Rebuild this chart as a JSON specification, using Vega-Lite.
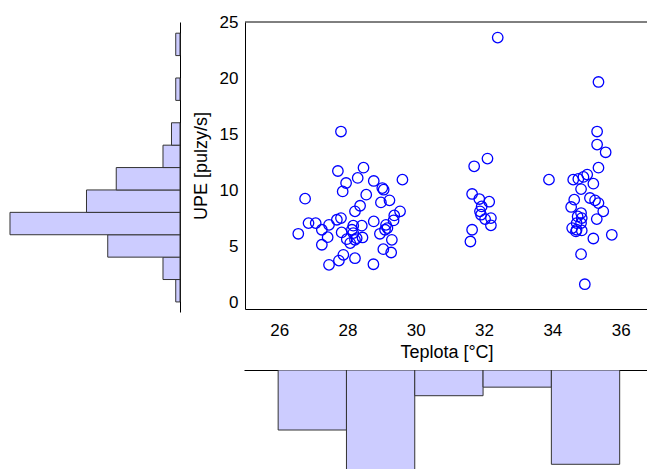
{
  "$schema": "https://vega.github.io/schema/vega-lite/v6.json",
  "padding": {"left": 0, "top": 13, "right": 0, "bottom": 0},
  "config": {
    "view": {"stroke": null},
    "font": "Liberation Sans",
    "axis": {"labelFont": "Liberation Sans", "titleFont": "Liberation Sans", "labelFontSize": 17, "titleFontSize": 18, "labelColor": "#000", "titleColor": "#000", "titleFontWeight": "normal", "domainColor": "#000", "grid": false, "ticks": false}
  },
  "datasets": {
    "pts": [
      {"t": 27.81, "u": 15.23}, {"t": 27.72, "u": 11.71}, {"t": 28.47, "u": 12.01}, {"t": 28.30, "u": 11.09},
      {"t": 27.96, "u": 10.64}, {"t": 27.86, "u": 9.89}, {"t": 28.77, "u": 10.82}, {"t": 29.02, "u": 10.19},
      {"t": 29.06, "u": 10.04}, {"t": 29.61, "u": 10.94}, {"t": 28.55, "u": 9.60}, {"t": 28.98, "u": 8.91},
      {"t": 29.23, "u": 9.09}, {"t": 28.37, "u": 8.61}, {"t": 28.22, "u": 8.11}, {"t": 26.76, "u": 9.24},
      {"t": 29.54, "u": 8.11}, {"t": 29.37, "u": 7.75}, {"t": 29.35, "u": 7.30}, {"t": 28.77, "u": 7.21},
      {"t": 27.81, "u": 7.51}, {"t": 27.69, "u": 7.36}, {"t": 26.86, "u": 7.06}, {"t": 27.07, "u": 7.06},
      {"t": 27.46, "u": 6.91}, {"t": 27.25, "u": 6.47}, {"t": 26.56, "u": 6.11}, {"t": 28.17, "u": 6.83},
      {"t": 28.42, "u": 6.83}, {"t": 27.83, "u": 6.23}, {"t": 28.13, "u": 6.47}, {"t": 28.17, "u": 6.17},
      {"t": 27.42, "u": 5.81}, {"t": 27.98, "u": 5.63}, {"t": 28.27, "u": 5.72}, {"t": 28.44, "u": 5.78},
      {"t": 28.08, "u": 5.28}, {"t": 28.22, "u": 5.57}, {"t": 28.95, "u": 6.11}, {"t": 29.10, "u": 6.47},
      {"t": 29.17, "u": 6.62}, {"t": 29.30, "u": 5.57}, {"t": 27.25, "u": 5.13}, {"t": 29.05, "u": 4.74},
      {"t": 29.28, "u": 4.44}, {"t": 27.88, "u": 4.23}, {"t": 27.75, "u": 3.72}, {"t": 27.46, "u": 3.34},
      {"t": 28.22, "u": 3.93}, {"t": 28.76, "u": 3.39}, {"t": 29.13, "u": 6.91},
      {"t": 32.40, "u": 23.61}, {"t": 31.71, "u": 12.13}, {"t": 32.10, "u": 12.82}, {"t": 31.65, "u": 9.66},
      {"t": 31.86, "u": 9.21}, {"t": 32.15, "u": 8.97}, {"t": 31.93, "u": 8.55}, {"t": 31.88, "u": 8.11},
      {"t": 31.91, "u": 7.81}, {"t": 32.20, "u": 7.51}, {"t": 32.03, "u": 7.42}, {"t": 32.20, "u": 6.86},
      {"t": 31.65, "u": 6.47}, {"t": 31.60, "u": 5.42},
      {"t": 35.35, "u": 19.65}, {"t": 35.31, "u": 15.23}, {"t": 35.31, "u": 14.07}, {"t": 35.56, "u": 13.38},
      {"t": 35.35, "u": 12.01}, {"t": 33.90, "u": 10.94}, {"t": 34.61, "u": 10.94}, {"t": 34.76, "u": 11.00},
      {"t": 34.91, "u": 11.18}, {"t": 35.02, "u": 11.39}, {"t": 35.20, "u": 10.58}, {"t": 34.84, "u": 10.10},
      {"t": 34.64, "u": 9.15}, {"t": 35.10, "u": 9.30}, {"t": 35.25, "u": 9.09}, {"t": 35.35, "u": 8.85},
      {"t": 34.55, "u": 8.50}, {"t": 35.49, "u": 8.11}, {"t": 34.84, "u": 7.96}, {"t": 34.74, "u": 7.66},
      {"t": 34.86, "u": 7.51}, {"t": 35.30, "u": 7.42}, {"t": 34.71, "u": 7.06}, {"t": 34.84, "u": 7.06},
      {"t": 34.58, "u": 6.62}, {"t": 34.71, "u": 6.47}, {"t": 34.86, "u": 6.41}, {"t": 35.74, "u": 6.02},
      {"t": 35.20, "u": 5.69}, {"t": 34.84, "u": 4.29}, {"t": 34.95, "u": 1.61}, {"t": 34.69, "u": 6.32}
    ],
    "yh": [
      {"lo": 0, "hi": 2, "count": 1}, {"lo": 2, "hi": 4, "count": 4}, {"lo": 4, "hi": 6, "count": 17},
      {"lo": 6, "hi": 8, "count": 40}, {"lo": 8, "hi": 10, "count": 22}, {"lo": 10, "hi": 12, "count": 15},
      {"lo": 12, "hi": 14, "count": 4}, {"lo": 14, "hi": 16, "count": 2}, {"lo": 18, "hi": 20, "count": 1},
      {"lo": 22, "hi": 24, "count": 1}
    ],
    "xh": [
      {"lo": 26, "hi": 28, "count": 14}, {"lo": 28, "hi": 30, "count": 61}, {"lo": 30, "hi": 32, "count": 6},
      {"lo": 32, "hi": 34, "count": 4}, {"lo": 34, "hi": 36, "count": 22}
    ]
  },
  "spacing": 9,
  "vconcat": [
    {
      "spacing": 11,
      "hconcat": [
        {
          "width": 180, "height": 290,
          "data": {"name": "yh"},
          "mark": {"type": "rect", "fill": "#ccccff", "stroke": "#333333", "strokeWidth": 1},
          "encoding": {
            "y": {"field": "lo", "type": "quantitative", "scale": {"domain": [-0.9, 25], "nice": false, "zero": false}, "axis": {"orient": "right", "labels": false, "title": null}},
            "y2": {"field": "hi"},
            "x": {"field": "count", "type": "quantitative", "scale": {"domain": [0, 42.35], "reverse": true, "nice": false}, "axis": null},
            "x2": {"datum": 0}
          }
        },
        {
          "width": 403, "height": 287,
          "layer": [
            {
              "data": {"name": "pts"},
              "mark": {"type": "point", "shape": "circle", "filled": false, "size": 110, "strokeWidth": 1.3, "color": "#0000ff", "opacity": 1},
              "encoding": {
                "x": {"field": "t", "type": "quantitative", "scale": {"domain": [25, 36.8], "nice": false, "zero": false}, "axis": {"values": [26, 28, 30, 32, 34, 36], "title": "Teplota [°C]", "labelPadding": 13, "titlePadding": 5}},
                "y": {"field": "u", "type": "quantitative", "scale": {"domain": [-0.6, 25], "nice": false, "zero": false}, "axis": {"values": [0, 5, 10, 15, 20, 25], "title": "UPE [pulzy/s]", "labelPadding": 7, "titlePadding": 9}}
              }
            },
            {
              "data": {"values": [{}]},
              "mark": {"type": "rule", "color": "#000000"},
              "encoding": {"y": {"datum": 25}}
            }
          ]
        }
      ]
    },
    {
      "spacing": 64,
      "hconcat": [
        {"width": 180, "height": 99, "data": {"values": []}, "mark": "point", "encoding": {}},
        {
          "width": 403, "height": 99,
          "data": {"name": "xh"},
          "mark": {"type": "rect", "fill": "#ccccff", "stroke": "#333333", "strokeWidth": 1, "clip": true},
          "encoding": {
            "x": {"field": "lo", "type": "quantitative", "scale": {"domain": [25, 36.8], "nice": false, "zero": false}, "axis": {"orient": "top", "labels": false, "title": null}},
            "x2": {"field": "hi"},
            "y": {"field": "count", "type": "quantitative", "scale": {"domain": [0, 23.1], "reverse": true, "nice": false}, "axis": null},
            "y2": {"datum": 0}
          }
        }
      ]
    }
  ]
}
